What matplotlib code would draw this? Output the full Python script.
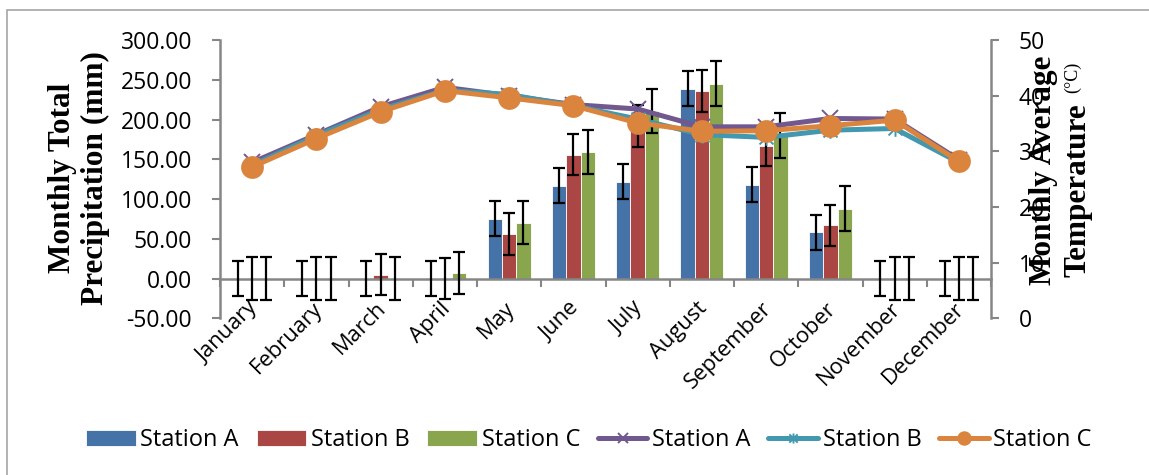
import numpy as np
import matplotlib
matplotlib.use("Agg")
import matplotlib.pyplot as plt
from matplotlib.patches import Rectangle
from matplotlib.path import Path
from matplotlib.transforms import ScaledTranslation

months = ["January", "February", "March", "April", "May", "June", "July",
          "August", "September", "October", "November", "December"]

precip_a = [0, 0, 0, 0, 75, 117, 122, 239, 118, 58, 0, 0]
precip_b = [0, 0, 5, 0, 56, 156, 192, 236, 167, 67, 0, 0]
precip_c = [0, 0, 0, 7, 70, 159, 211, 245, 180, 88, 0, 0]
err_a = [22, 22, 22, 22, 22, 22, 22, 22, 22, 22, 22, 22]
err_b = [27, 27, 26, 26, 26, 26, 26, 26, 26, 26, 27, 27]
err_c = [27, 27, 27, 27, 27, 28, 28, 28, 28, 28, 27, 27]

temp_a = [28.0, 33.0, 38.0, 41.5, 40.0, 38.4, 37.6, 34.4, 34.4, 35.9, 35.8, 28.5]
temp_b = [27.5, 32.8, 37.5, 41.0, 40.2, 38.2, 35.8, 33.0, 32.5, 33.8, 34.1, 28.0]
temp_c = [27.2, 32.3, 37.1, 40.9, 39.6, 38.2, 35.1, 33.6, 33.7, 34.6, 35.6, 28.2]

left_ticks = [-50, 0, 50, 100, 150, 200, 250, 300]
right_ticks = [0, 10, 20, 30, 40, 50]
station_names = ["Station A", "Station B", "Station C"]

bar_colors = ["#4572A7", "#AA4643", "#89A54E"]
line_colors = ["#71588F", "#4198AF", "#DB843D"]
gray = "#868686"

# Excel-style star marker: an X plus a vertical stroke
star = Path([(-1, -1), (1, 1), (-1, 1), (1, -1), (0, -1.2), (0, 1.2)],
            [Path.MOVETO, Path.LINETO, Path.MOVETO, Path.LINETO, Path.MOVETO, Path.LINETO])

W, H = 1149, 475
fig = plt.figure(figsize=(W / 100, H / 100), dpi=100)
tick_font = "Open Sans"
serif = "Liberation Serif"

# outer chart border
fig.patches.append(Rectangle((7 / W, -0.1), 1.2, 1 - 10 / H + 0.1, transform=fig.transFigure,
                             fill=False, edgecolor="#A6A6A6", linewidth=1.2))

ax = fig.add_axes([220 / W, 1 - 318.3 / H, (991 - 220) / W, (318.3 - 40) / H])
ax.set_facecolor("none")
x = np.arange(len(months))
bw = 0.223
for i, (vals, errs, col) in enumerate(zip([precip_a, precip_b, precip_c],
                                          [err_a, err_b, err_c], bar_colors)):
    ax.bar(x + (i - 1) * bw, vals, width=bw, color=col, edgecolor="white",
           linewidth=0.6, label=station_names[i], zorder=2)
    ax.errorbar(x + (i - 1) * bw, vals, yerr=errs, fmt="none", ecolor="black",
                elinewidth=1.6, capsize=4.5, capthick=1.6, zorder=3)

ax.set_xlim(-0.5, len(months) - 0.5)
ax.set_ylim(-50, 300)
ax.set_yticks(left_ticks)
ax.set_yticklabels([f"{v:.2f}" for v in left_ticks])
ax.set_xticks(x)
ax.set_xticklabels(months)
ax.set_xticks(np.arange(-0.5, len(months) - 0.4, 1.0), minor=True)
ax.tick_params(axis="x", which="major", length=0, pad=14, labelrotation=45,
               labelsize=15.8, labelfontfamily=tick_font)
ax.tick_params(axis="x", which="minor", length=6, width=1.5, color=gray, direction="out")
ax.tick_params(axis="y", length=6, width=1.5, color=gray, direction="out", pad=14,
               labelsize=16.5, labelfontfamily=tick_font)

for s in ["top", "right"]:
    ax.spines[s].set_visible(False)
ax.spines["bottom"].set_position(("data", 0))
ax.spines["bottom"].set_color(gray)
ax.spines["bottom"].set_linewidth(1.8)
ax.spines["left"].set_color(gray)
ax.spines["left"].set_linewidth(1.8)

ax2 = ax.twinx()
markers = ["x", star, "o"]
msizes = [12, 12, 15]
for vals, col, mk, ms, nm in zip([temp_a, temp_b, temp_c], line_colors, markers, msizes, station_names):
    ax2.plot(x, vals, color=col, linewidth=3.6, marker=mk, markersize=ms,
             markeredgewidth=1.4, markeredgecolor=col, markerfacecolor=col,
             label=nm, solid_capstyle="round", zorder=4)
ax2.set_ylim(0, 50)
ax2.set_yticks(right_ticks)
ax2.set_yticklabels([str(v) for v in right_ticks])
ax2.tick_params(axis="y", length=6, width=1.5, color=gray, direction="out", pad=14,
                labelsize=16.5, labelfontfamily=tick_font)
for s in ["top", "left", "bottom"]:
    ax2.spines[s].set_visible(False)
ax2.spines["right"].set_color(gray)
ax2.spines["right"].set_linewidth(1.8)

for lab in ax.get_xticklabels():
    lab.set_horizontalalignment("right")
    lab.set_transform(lab.get_transform() + ScaledTranslation(0.10, 0.0, fig.dpi_scale_trans))

# axis titles
fig.text(79 / W, 1 - 178 / H, "Monthly Total\nPrecipitation (mm)", rotation=90,
         ha="center", va="center", multialignment="center", fontfamily=serif,
         fontweight="bold", fontsize=22.5, linespacing=1.15)
fig.text(1043 / W, 1 - 170 / H, "Monthly Average", rotation=90, ha="center", va="center",
         fontfamily=serif, fontweight="bold", fontsize=22.5)
fig.text(1078 / W, 1 - 277 / H, "Temperature", rotation=90, ha="center", va="bottom",
         fontfamily=serif, fontweight="bold", fontsize=22.5)
fig.text(1073 / W, 1 - 77.5 / H, "(°C)", rotation=90, ha="center", va="center",
         fontfamily=serif, fontsize=13)

h1, l1 = ax.get_legend_handles_labels()
h2, l2 = ax2.get_legend_handles_labels()
fig.legend(h1 + h2, l1 + l2, loc="center", bbox_to_anchor=(589 / W, 1 - 440 / H), ncol=6,
           frameon=False, prop={"family": tick_font, "size": 17}, handlelength=2.1,
           handleheight=0.65, handletextpad=0.2, columnspacing=0.75, markerscale=0.6)

fig.savefig("out.png", dpi=100)
